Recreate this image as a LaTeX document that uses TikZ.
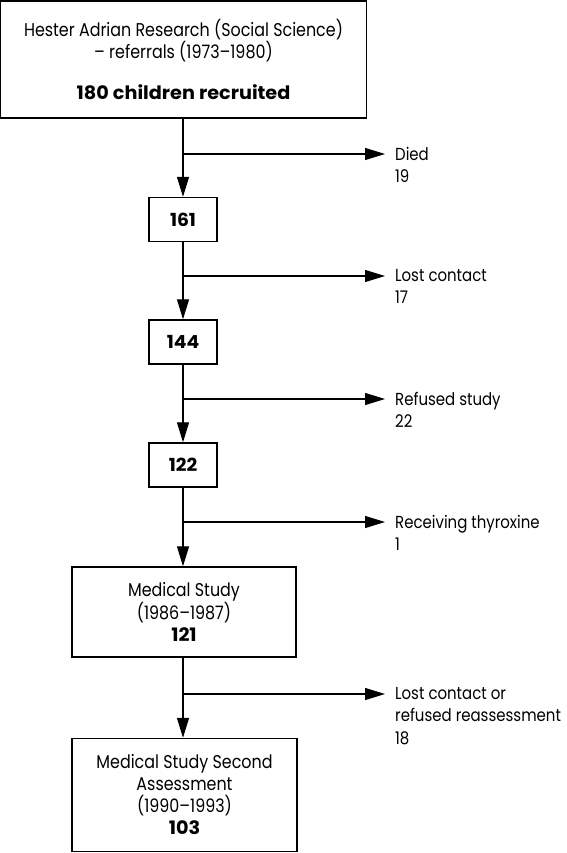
\documentclass[tikz,border=0pt]{standalone}
\usepackage{fontspec}
\setmainfont{Poppins}[UprightFeatures={FakeStretch=0.86}, BoldFeatures={FakeStretch=1.04}]
\usetikzlibrary{arrows.meta}
\tikzstyle{box}=[draw, line width=1.4pt, rectangle, inner sep=0pt, align=center, font=\fontsize{18.5}{22}\selectfont]
\tikzstyle{count box}=[box, minimum width=68pt, minimum height=44pt, font=\fontsize{18}{22}\selectfont\bfseries]
\tikzstyle{flow}=[draw, line width=1.3pt, -{Triangle[length=20pt,width=12pt]}]
\tikzstyle{note}=[anchor=north west, align=left, inner sep=0pt, font=\fontsize{17.4}{22.5}\selectfont]

\begin{document}
\begin{tikzpicture}[x=1pt, y=-1pt]
\useasboundingbox (0,0) rectangle (566,853);
% boxes down the left side
\node[box, minimum width=366pt, minimum height=117pt] (recruited) at (183.5,59.5)
  {Hester Adrian Research (Social Science)\\ -- referrals (1973--1980)\\[19pt] \textbf{180 children recruited}};
\node[count box] (n161) at (183,219.5) {161};
\node[count box] (n144) at (183,342) {144};
\node[count box] (n122) at (183,465) {122};
\node[box, minimum width=224pt, minimum height=90pt] (medical) at (184,612)
  {Medical Study\\ (1986--1987)\\ \textbf{121}};
\node[box, minimum width=225pt, minimum height=113pt] (second) at (184.5,795)
  {Medical Study Second\\ Assessment\\ (1990--1993)\\ \textbf{103}};

% main flow
\foreach \source/\dest in {recruited/n161, n161/n144, n144/n122, n122/medical, medical/second}
\draw[flow] (\source.south -| 183,0) -- (\dest.north -| 183,0);

% exclusions to the right
\foreach \y/\name/\txt in {
	154/died/{Died\\19},
	276/lost/{Lost contact\\17},
	399/refused/{Refused study\\22},
	522/thyrox/{Receiving thyroxine\\1},
	694/reassess/{Lost contact or\\refused reassessment\\18}}
{
\coordinate (b-\name) at (183,\y);
\coordinate (e-\name) at (385,\y);
\draw[flow] (b-\name) -- (e-\name);
\node[note] (t-\name) at (395,\y-7) {\txt};
}
\end{tikzpicture}
\end{document}
